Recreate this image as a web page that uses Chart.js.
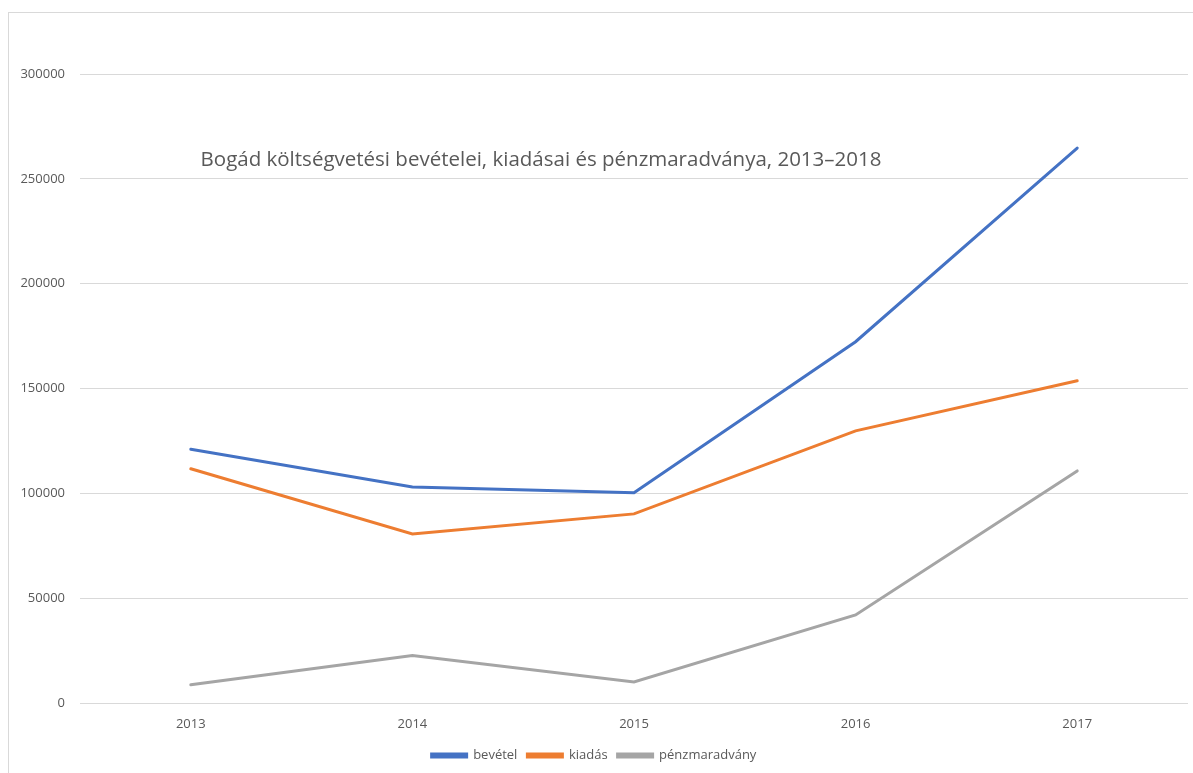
<!DOCTYPE html>
<html>
<head>
<meta charset="utf-8">
<script src="https://cdn.jsdelivr.net/npm/chart.js@4"></script>
<style>
  html, body { margin: 0; padding: 0; background: #fff; }
  #frame { position: absolute; left: 8px; top: 12px; width: 1200px; height: 780px; border: 1px solid #d9d9d9; }
  #wrap { position: absolute; left: 0; top: 0; width: 1193px; height: 773px; }
</style>
</head>
<body>
<div id="frame"></div>
<div id="wrap"><canvas id="chart"></canvas></div>
<script>
const years = ["2013", "2014", "2015", "2016", "2017"];
const bevetel = [121000, 103000, 100300, 172300, 264700];
const kiadas = [111700, 80600, 90200, 129800, 153700];
const penzmaradvany = [8700, 22700, 10000, 42000, 110700];
const title = "Bogád költségvetési bevételei, kiadásai és pénzmaradványa, 2013–2018";

const textColor = "#595959";
const font = "'Open Sans', sans-serif";

const innerTitle = {
  id: "innerTitle",
  afterDraw(chart) {
    const ctx = chart.ctx;
    ctx.save();
    ctx.font = "20.5px " + font;
    ctx.fillStyle = textColor;
    ctx.textAlign = "center";
    ctx.textBaseline = "middle";
    ctx.fillText(title, 541, 160);
    ctx.restore();
  },
};

const line = (label, data, color) => ({
  label,
  data,
  borderColor: color,
  backgroundColor: color,
  borderWidth: 3,
  borderCapStyle: "round",
  pointRadius: 0,
  tension: 0,
});

new Chart(document.getElementById("chart"), {
  type: "line",
  data: {
    labels: years,
    datasets: [
      line("bevétel", bevetel, "#4472c4"),
      line("kiadás", kiadas, "#ed7d31"),
      line("pénzmaradvány", penzmaradvany, "#a5a5a5"),
    ],
  },
  options: {
    responsive: true,
    maintainAspectRatio: false,
    animation: false,
    layout: { padding: { top: 74, right: 5, bottom: 1, left: 0 } },
    plugins: {
      legend: {
        position: "bottom",
        labels: {
          boxWidth: 35,
          boxHeight: 3,
          padding: 10,
          color: textColor,
          font: { family: font, size: 13 },
        },
      },
      tooltip: { enabled: false },
    },
    scales: {
      x: {
        offset: true,
        grid: { display: false, drawTicks: false },
        border: { display: false },
        ticks: { color: textColor, font: { family: font, size: 13 }, padding: 13 },
        afterFit: (s) => { s.height = 36; },
      },
      y: {
        min: 0,
        max: 300000,
        ticks: {
          stepSize: 50000,
          color: textColor,
          font: { family: font, size: 13 },
          padding: 15,
          callback: (v) => String(v),
        },
        grid: { color: "#d9d9d9", drawTicks: false },
        border: { display: false },
        afterFit: (s) => { s.width = 80; },
      },
    },
  },
  plugins: [innerTitle],
});
</script>
</body>
</html>
